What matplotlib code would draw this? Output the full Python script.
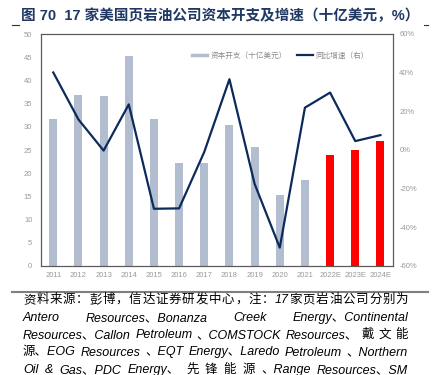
import matplotlib
matplotlib.use("Agg")
import matplotlib.pyplot as plt
from matplotlib.lines import Line2D
import numpy as np

plt.rcParams['font.family'] = ['Liberation Sans', 'Noto Sans CJK SC', 'DejaVu Sans']

years = ["2011", "2012", "2013", "2014", "2015", "2016", "2017", "2018", "2019", "2020", "2021", "2022E", "2023E", "2024E"]
capex = [31.7, 36.9, 36.7, 45.2, 31.6, 22.2, 22.3, 30.3, 25.6, 15.2, 18.5, 23.9, 24.9, 26.9]
growth = [40.1, 15.8, -0.3, 23.6, -30.4, -30.2, -1.0, 36.6, -17.5, -50.5, 21.9, 29.7, 4.6, 7.7]
forecast = [False] * 11 + [True] * 3

title = "图 70  17 家美国页岩油公司资本开支及增速（十亿美元，%）"
legend_labels = ["资本开支（十亿美元）", "同比增速（右）"]
footer_lines = [
    list("资料来源：彭博，信达证券研发中心，注：") + ["17"] + list("家页岩油公司分别为"),
    ["Antero", "Resources、Bonanza", "Creek", "Energy、Continental"],
    ["Resources、Callon", "Petroleum", "、COMSTOCK", "Resources、", "戴", "文", "能"],
    ["源、EOG", "Resources", "、EQT", "Energy、Laredo", "Petroleum", "、Northern"],
    ["Oil", "&", "Gas、PDC", "Energy、", "先", "锋", "能", "源", "、Range", "Resources、SM"],
]

W, H = 432, 375
fig = plt.figure(figsize=(W / 100, H / 100), dpi=100)
ax = fig.add_axes([40.7 / W, 1 - 266 / H, (393 - 40.7) / W, (266 - 34) / H])
ax2 = ax.twinx()

bar_color = "#b3bdd0"
line_color = "#0c2a5c"
x = np.arange(len(years))
colors = ["#ff0000" if f else bar_color for f in forecast]
ax.bar(x, capex, width=0.32, color=colors, zorder=2)
ax2.plot(x, growth, color=line_color, lw=1.6, zorder=3)

ax.set_xlim(-0.5, len(years) - 0.5)
ax.set_ylim(0, 50)
ax.set_yticks(np.arange(0, 51, 5))
ax2.set_ylim(-60, 60)
ax2.set_yticks(np.arange(-60, 61, 20))
ax2.set_yticklabels([f"{v}%" for v in range(-60, 61, 20)])
ax.set_xticks(x)
ax.set_xticklabels(years)

tick_color = "#9a9a9a"
for a in (ax, ax2):
    a.tick_params(length=0, labelsize=5.5, labelcolor=tick_color)
    for s in a.spines.values():
        s.set_color("#5a5a5a")
        s.set_linewidth(0.8)
ax.tick_params(axis='y', pad=6)
ax.tick_params(axis='x', pad=4)
ax2.tick_params(axis='y', pad=4.5)

handles = [Line2D([0], [0], color=bar_color, lw=2.5), Line2D([0], [0], color=line_color, lw=1.6)]
ax.legend(handles, legend_labels, loc="center left", bbox_to_anchor=(0.41, 0.905), ncol=2,
          frameon=False, fontsize=5.5, labelcolor="#8a8a8a", handlelength=2.0, handletextpad=0.4,
          columnspacing=1.4)

# title
fig.text(21 / W, 1 - 16 / H, title, fontsize=10.5, fontweight="bold", color="#1f3864",
         va="center", ha="left")
fig.add_artist(Line2D([12 / W, 19 / W], [1 - 24.5 / H] * 2, color="#333333", lw=0.8))
fig.add_artist(Line2D([424 / W, 428 / W], [1 - 24.5 / H] * 2, color="#333333", lw=0.8))

# footer rule
fig.add_artist(Line2D([12 / W, 428 / W], [1 - 292 / H] * 2, color="#7f7f7f", lw=1.5))

# footer justified text
renderer = fig.canvas.get_renderer()
x0, x1 = 23, 408
ys = [300, 318, 335, 352.5, 370]
for tokens, yy in zip(footer_lines, ys):
    texts = [fig.text(0, 1 - yy / H, t, fontsize=9, style="italic", color="black",
                      va="center", ha="left") for t in tokens]
    widths = [t.get_window_extent(renderer).width for t in texts]
    gap = (x1 - x0 - sum(widths)) / max(len(texts) - 1, 1)
    pos = x0
    for t, w in zip(texts, widths):
        t.set_x(pos / W)
        pos += w + gap

fig.savefig("out.png", dpi=100)
